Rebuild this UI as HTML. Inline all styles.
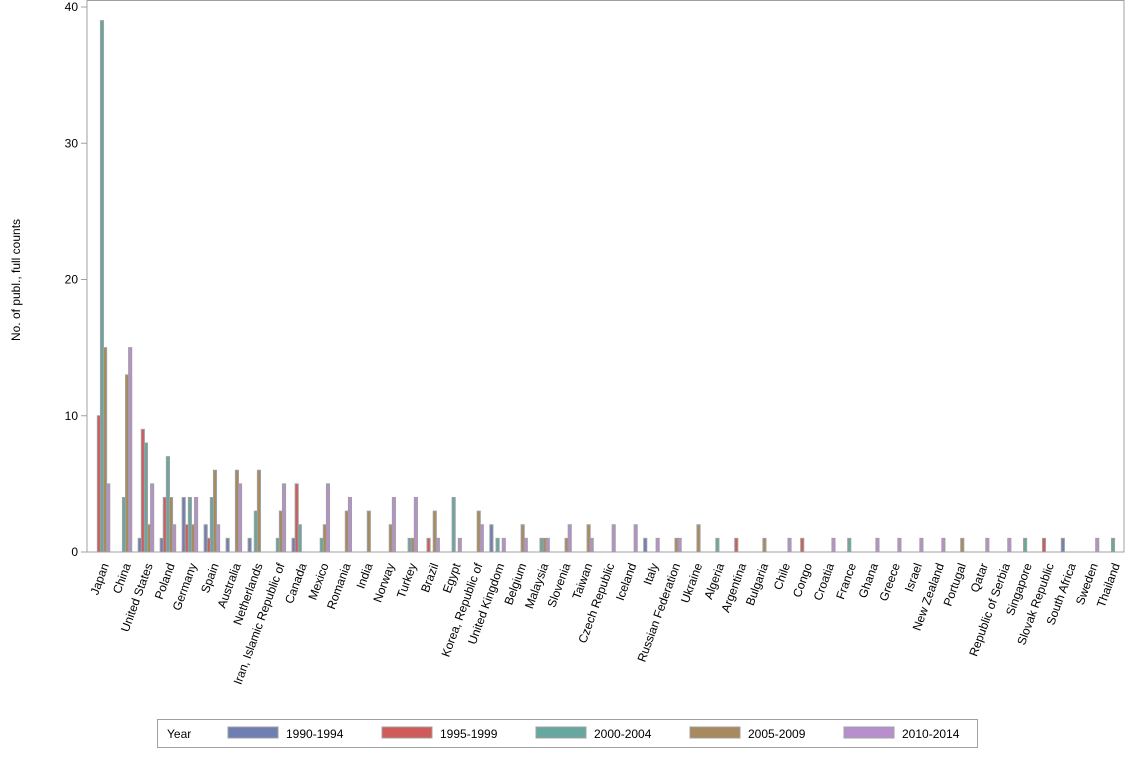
<!DOCTYPE html>
<html><head><meta charset="utf-8"><style>
body{margin:0;background:#fff;font-family:"Liberation Sans",sans-serif}
svg text{font-family:"Liberation Sans",sans-serif;font-size:12px;fill:#000}
</style></head><body>
<svg id="c" width="1134" height="756"></svg>
<script>
const categories=["Japan","China","United States","Poland","Germany","Spain","Australia","Netherlands","Iran, Islamic Republic of","Canada","Mexico","Romania","India","Norway","Turkey","Brazil","Egypt","Korea, Republic of","United Kingdom","Belgium","Malaysia","Slovenia","Taiwan","Czech Republic","Iceland","Italy","Russian Federation","Ukraine","Algeria","Argentina","Bulgaria","Chile","Congo","Croatia","France","Ghana","Greece","Israel","New Zealand","Portugal","Qatar","Republic of Serbia","Singapore","Slovak Republic","South Africa","Sweden","Thailand"];
const s1990=[0,0,1,1,4,2,1,1,0,1,0,0,0,0,0,0,0,0,2,0,0,0,0,0,0,1,0,0,0,0,0,0,0,0,0,0,0,0,0,0,0,0,0,0,1,0,0];
const s1995=[10,0,9,4,2,1,0,0,0,5,0,0,0,0,0,1,0,0,0,0,0,0,0,0,0,0,0,0,0,1,0,0,1,0,0,0,0,0,0,0,0,0,0,1,0,0,0];
const s2000=[39,4,8,7,4,4,0,3,1,2,1,0,0,0,1,0,4,0,1,0,1,0,0,0,0,0,0,0,1,0,0,0,0,0,1,0,0,0,0,0,0,0,1,0,0,0,1];
const s2005=[15,13,2,4,2,6,6,6,3,0,2,3,3,2,1,3,0,3,0,2,1,1,2,0,0,0,1,2,0,0,1,0,0,0,0,0,0,0,0,1,0,0,0,0,0,0,0];
const s2010=[5,15,5,2,4,2,5,0,5,0,5,4,0,4,4,1,1,2,1,1,1,2,1,2,2,1,1,0,0,0,0,1,0,1,0,1,1,1,1,0,1,1,0,0,0,1,0];
const series=[s1990,s1995,s2000,s2005,s2010];
const seriesNames=["1990-1994","1995-1999","2000-2004","2005-2009","2010-2014"];
const yTicks=[0,10,20,30,40];
const colors=["#6f7eb3","#d05b5b","#66a8a0","#a98a5e","#b88fce"];
const NS="http://www.w3.org/2000/svg";
const svg=document.getElementById('c');
function mk(t,a,p){const e=document.createElementNS(NS,t);for(const k in a)e.setAttribute(k,a[k]);(p||svg).appendChild(e);return e;}
const x0=91,x1=1124,y0=552,yTop=7,yMax=40;
const step=(x1-x0)/categories.length;
const y=v=>y0-(v/yMax)*(y0-yTop);
const xc=i=>x0+step*i+step/2;
const fr=mk('path',{d:`M87 ${y0} L87 0.5 L${x1} 0.5 L${x1} ${y0} Z`,fill:'none',stroke:'#a0a0a0'});

yTicks.forEach(t=>{
 const l=mk('line',{x1:81,x2:87,y1:y(t),y2:y(t),stroke:'#a0a0a0'});
 
 const tx=mk('text',{x:78,y:y(t)+4,'text-anchor':'end'});tx.textContent=t;
 
});
const yt=mk('text',{x:20,y:280,'text-anchor':'middle',transform:'rotate(-90 20 280)'});
yt.textContent='No. of publ., full counts';

const bw=3.1;
categories.forEach((c,i)=>{
 series.forEach((s,k)=>{
  if(!s[i])return;
  const bx=xc(i)+(k-2)*bw-bw/2;
  const r=mk('rect',{x:bx,y:y(s[i]),width:bw,height:y0-y(s[i]),fill:colors[k],stroke:'#a0a0a0','stroke-width':1});
  
 });
 const lx=xc(i)+7;
 const tx=mk('text',{x:lx,y:565,'text-anchor':'end',transform:`rotate(-70 ${lx} 565)`});
 tx.textContent=c;
 
});
const lg=mk('g',{});

mk('rect',{x:157.5,y:719.5,width:820,height:28,fill:'#fff',stroke:'#a0a0a0'},lg);
const lt=mk('text',{x:167,y:738},lg);lt.textContent='Year';
seriesNames.forEach((n,k)=>{
 const sx=228+154*k;
 const r=mk('rect',{x:sx,y:727,width:50,height:11,fill:colors[k],stroke:'#a0a0a0'},lg);
 
 const t=mk('text',{x:sx+58,y:738},lg);t.textContent=n;
 
});
</script>
</body></html>
